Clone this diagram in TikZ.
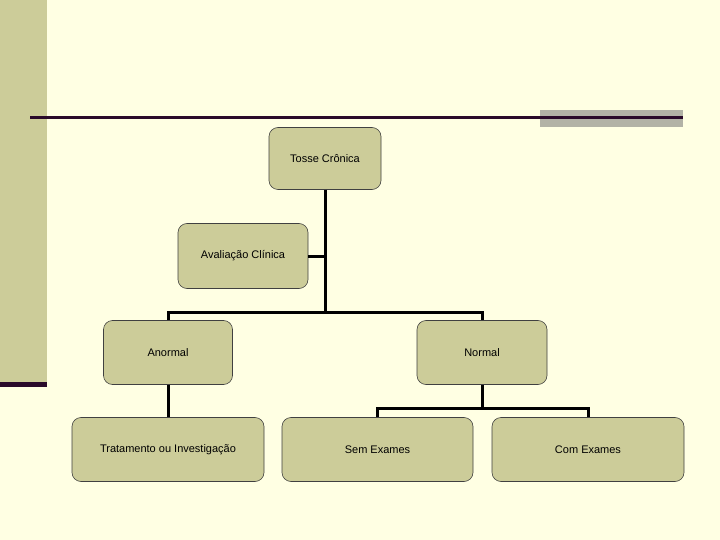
\documentclass[tikz,border=0pt]{standalone}
\usepackage{fontspec}
\setmainfont{Liberation Sans}
\usetikzlibrary{positioning}
\definecolor{paper}{HTML}{FFFFE3}
\definecolor{sidebar}{HTML}{CCCC99}
\definecolor{plum}{HTML}{2A0A2A}
\definecolor{rulegray}{HTML}{B2B2A6}
\definecolor{boxfill}{HTML}{CCCC99}
\tikzset{
  every node/.style={font=\fontsize{11}{13}\selectfont},
  box/.style={draw=black!75,line width=.6pt,fill=boxfill,rounded corners=9pt,
    inner sep=0pt,minimum height=64pt},
  link/.style={draw=black,line width=3pt}}
\begin{document}
\begin{tikzpicture}[x=1pt,y=-1pt]
\useasboundingbox (0,0) rectangle (720,540);
\fill[paper] (0,0) rectangle (720,540);
% frame of the slide
\fill[sidebar] (0,0) rectangle (47,382);
\fill[plum] (0,382) rectangle (47,387);
\fill[rulegray] (540,110) rectangle (683,127);
\fill[plum] (30,116) rectangle (683,119);
% boxes
\node[box,minimum width=112pt,minimum height=62pt] (tosse) at (325,158.5) {Tosse Crônica};
\node[box,minimum width=130pt,minimum height=65pt] (aval) at (243,256) {Avaliação Clínica};
\node[box,minimum width=129pt] (anormal) at (168,352.5) {Anormal};
\node[box,minimum width=130pt] (normal) at (482,352.5) {Normal};
\node[box,minimum width=192pt] (trat) at (168,449.5) {Tratamento ou Investigação};
\node[box,minimum width=191pt] (sem) at (377.5,449.5) {Sem Exames};
\node[box,minimum width=192pt] (com) at (588,449.5) {Com Exames};
\coordinate (busA) at (325,312);
\coordinate (busB) at (482,408);
% connectors
\draw[link] (tosse.south) -- (busA);
\draw[link] (aval.east) -- (aval.east -| tosse.south);
\draw[link] (anormal.north) |- (busA) -| (normal.north);
\draw[link] (anormal.south) -- (trat.north);
\draw[link] (normal.south) -- (busB);
\draw[link] (sem.north) |- (busB) -| (com.north);
\end{tikzpicture}
\end{document}
